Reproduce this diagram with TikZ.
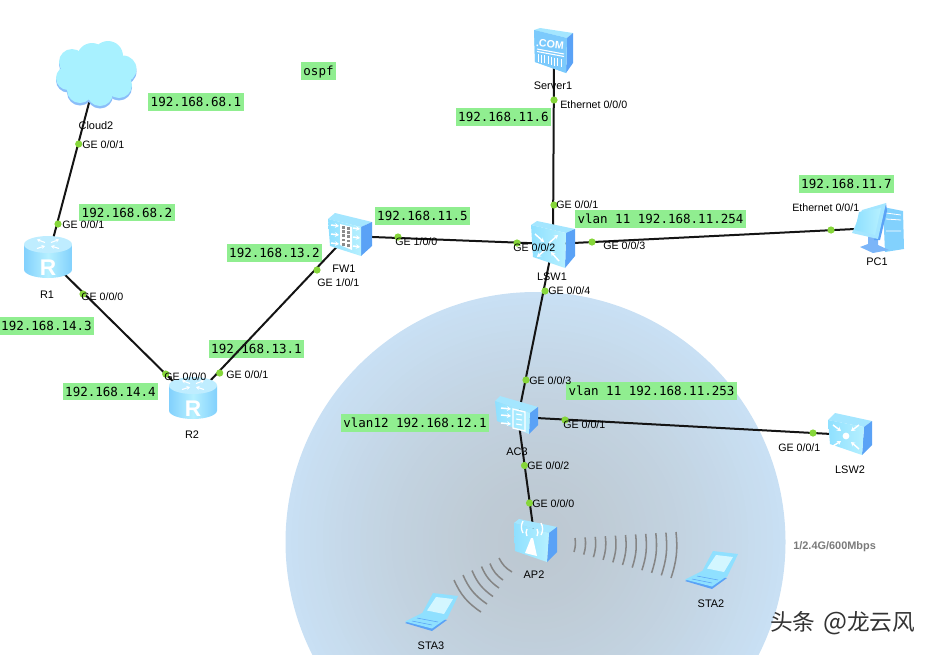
\documentclass[tikz,border=0pt]{standalone}
\usepackage{fontspec}
\setmainfont{Liberation Sans}
\newfontfamily\monofam{DejaVu Sans Mono}
\newfontfamily\cjkfam{Noto Sans CJK SC}
\usetikzlibrary{arrows.meta}
\definecolor{ipgreen}{HTML}{90EE90}
\definecolor{dotgreen}{HTML}{86D63A}
\definecolor{haloA}{HTML}{BDC8D1}
\definecolor{haloD}{HTML}{C9E0F4}
\definecolor{icside}{HTML}{5AA2F6}
\definecolor{ictop}{HTML}{A4E6FF}
\definecolor{icfrontA}{HTML}{8FE0FF}
\definecolor{icfrontB}{HTML}{B6F0FF}
\newcommand\cuboid[7]{%
  \fill[ictop] #1--#2--#3--#4--cycle;
  \fill[icside] #4--#3--#6--#5--cycle;
  \shade[left color=icfrontA,right color=icfrontB] #1--#4--#5--#7--cycle;
}
\tikzset{
  ipbox/.style={fill=ipgreen,font=\monofam\fontsize{9.4}{10}\selectfont,inner xsep=1.9pt,inner ysep=0pt,minimum height=12.9pt,text height=6.9pt,text depth=0pt},
  portlabel/.style={anchor=west,inner sep=0pt,font=\fontsize{8}{9}\selectfont,text=black},
  devlabel/.style={inner sep=0pt,font=\fontsize{8.2}{9}\selectfont,text=black},
  link/.style={line width=1.5pt,draw=black!92},
  portdot/.style={circle,fill=dotgreen,inner sep=0pt,minimum size=5.4pt},
  wave/.style={line width=1.15pt,draw=black!48},
  whitearrow/.style={draw=white,line width=1.1pt,-{Stealth[length=3pt,width=3.6pt]}},
  whiteline/.style={draw=white,line width=.8pt},
}
\begin{document}
\begin{tikzpicture}[x=0.75pt,y=-0.75pt]
\useasboundingbox (0,0) rectangle (937,654);
\begin{scope}
\clip (0,0) rectangle (937,654);
% coverage disc: concentric steps from rim to centre
\foreach \k in {40,39,...,1}{
  \pgfmathsetmacro\mixp{100*pow(\k/40,1.5)}
  \pgfmathsetmacro\rad{250*\k/40}
  \fill[haloD!\mixp!haloA] (535.5,542) circle (\rad);
}

% address boxes
\node[ipbox] (ipospf) at (318.5,71) {ospf};
\node[ipbox] (ipa) at (196,102) {192.168.68.1};
\node[ipbox] (ipb) at (127,212.5) {192.168.68.2};
\node[ipbox] (ipc) at (46.5,326) {192.168.14.3};
\node[ipbox] (ipd) at (274.5,253) {192.168.13.2};
\node[ipbox] (ipe) at (256.5,349) {192.168.13.1};
\node[ipbox] (ipf) at (110.5,391.5) {192.168.14.4};
\node[ipbox] (ipg) at (503.5,117) {192.168.11.6};
\node[ipbox] (iph) at (422.5,216) {192.168.11.5};
\node[ipbox] (ipi) at (846.5,184) {192.168.11.7};
\node[ipbox] (ipj) at (660.5,219) {vlan 11 192.168.11.254};
\node[ipbox] (ipk) at (651.5,391) {vlan 11 192.168.11.253};
\node[ipbox] (ipl) at (415,423) {vlan12 192.168.12.1};

% device anchor points
\coordinate (Cloud2) at (94,84);
\coordinate (R1) at (48,258);
\coordinate (R2) at (192,400);
\coordinate (FW1) at (347,236);
\coordinate (LSW1) at (553,244);
\coordinate (Server1) at (554,60);
\coordinate (PC1) at (875,228);
\coordinate (AC3) at (518,417);
\coordinate (LSW2) at (850,435);
\coordinate (AP2) at (535,541);

% connectors
\draw[link] (Cloud2) -- (R1);
\draw[link] (R1) -- (R2);
\draw[link] (R2) -- (FW1);
\draw[link] (FW1) -- (LSW1);
\draw[link] (Server1) -- (LSW1);
\draw[link] (LSW1) -- (PC1);
\draw[link] (LSW1) -- (AC3);
\draw[link] (AC3) -- (LSW2);
\draw[link] (AC3) -- (AP2);

% wifi waves toward STA2
\foreach \i in {0,...,10}{
  \pgfmathsetmacro\xt{575+10.1*\i}
  \pgfmathsetmacro\yt{538-0.6*\i}
  \pgfmathsetmacro\xb{574+9.7*\i}
  \pgfmathsetmacro\yb{552+2.6*\i}
  \draw[wave] (\xt,\yt) to[bend left=12] (\xb,\yb);
}
% wifi waves toward STA3
\foreach \xt/\yt/\xb/\yb in {499/558/512/572,490/563.5/503/580,481.5/566.5/499/588,472/570.5/493/596.5,463/575/487/604,454/580/481/612}{
  \draw[wave] (\xt,\yt) to[bend right=16] (\xb,\yb);
}

% Cloud
\foreach \ox/\oy/\oc in {0/2.5/icside!70!white,0/0/ictop!80!cyan!70!white}{
  \begin{scope}[shift={(\ox,\oy)}]
    \foreach \cx/\cy/\cr in {72/62/13,92/58/15,108/56/15,123/69/13.5,68/78/12,80/90/13,100/93/13,119/85/13,96/75/25}{
      \fill[\oc] (\cx,\cy) circle (\cr);
    }
  \end{scope}
}

% Routers
\foreach \cx/\cy in {48/244.5,193/385.5}{
  \begin{scope}[shift={(\cx,\cy)}]
    \shade[left color=icfrontA!75!icside,right color=icfrontA!75!icside,middle color=icfrontB] (-24,0) -- (-24,25) arc[start angle=180,end angle=0,x radius=24,y radius=8.5] -- (24,0) -- cycle;
    \fill[ictop!70!white] (0,0) ellipse[x radius=24,y radius=8.5];
    \draw[whiteline,-{Stealth[length=2.5pt,width=3pt]}] (-3,-2) -- (-11,-5);
    \draw[whiteline,-{Stealth[length=2.5pt,width=3pt]}] (3,-2) -- (11,-5);
    \draw[whiteline,-{Stealth[length=2.5pt,width=3pt]}] (-11,4) -- (-3,1.5);
    \draw[whiteline,-{Stealth[length=2.5pt,width=3pt]}] (11,4) -- (3,1.5);
    \node[text=white,inner sep=0pt,font=\bfseries\fontsize{17}{17}\selectfont] at (0,23) {R};
  \end{scope}
}

% FW1
\cuboid{(328,219)}{(335,213)}{(372,222)}{(361,227)}{(361,256)}{(372,246)}{(330,246)}
\fill[white] (340,224) -- (352,227) -- (352,250) -- (340,245) -- cycle;
\foreach \row in {0,...,4}{
  \fill[black!45] (341.5,{226+4.2*\row}) rectangle ++(3.6,2.8);
  \fill[black!45] (346.5,{227+4.2*\row}) rectangle ++(3.6,2.8);
}
\foreach \yy in {225,234,243}{
  \draw[whitearrow] (331,\yy) -- (339,{\yy+1});
  \draw[whitearrow] (353,{\yy+3}) -- (360,{\yy+4});
}

% LSW1 and LSW2
\cuboid{(531,225)}{(537,221)}{(575,229)}{(566,233)}{(565,268)}{(575,256)}{(533,257)}
\begin{scope}[shift={(548,247)}]
  \draw[whitearrow] (-13,-13) -- (-4,-5);
  \draw[whitearrow] (1,-4) -- (10,-12);
  \draw[whitearrow] (-3,3) -- (-11,10);
  \draw[whitearrow] (11,14) -- (3,5);
\end{scope}
\cuboid{(828,420)}{(835,413)}{(872,421)}{(864,427)}{(862,455)}{(872,445)}{(830,444)}
\begin{scope}[shift={(846,436)}]
  \fill[white] (0,0) circle (3.4);
  \draw[whitearrow] (-13,-11) -- (-5,-5);
  \draw[whitearrow] (13,-11) -- (5,-5);
  \draw[whitearrow] (-13,10) -- (-5,5);
  \draw[whitearrow] (13,13) -- (5,6);
\end{scope}

% AC3
\cuboid{(495,401)}{(500,396)}{(538,407)}{(530,413)}{(529,434)}{(538,425)}{(497,421)}
\foreach \yy in {408,415,423}{
  \draw[whitearrow] (501,\yy) -- (511,{\yy+1});
}
\draw[white,line width=1pt] (513,409) -- (525,412) -- (525,431) -- (513,428) -- cycle;
\foreach \yy in {414,419,424}{
  \draw[whiteline] (516,\yy) -- (522,{\yy+1});
}

% AP2
\cuboid{(514,523)}{(519,519)}{(557,527)}{(549,533)}{(547,562)}{(557,552)}{(515,551)}
\fill[white] (531,538) -- (525,553) -- (537,556) -- (533,538) -- cycle;
\draw[whiteline,line width=1pt] (527,536) arc[start angle=150,end angle=210,radius=7];
\draw[whiteline,line width=1pt] (523,533) arc[start angle=150,end angle=210,radius=12];
\draw[whiteline,line width=1pt] (537,536) arc[start angle=30,end angle=-30,radius=7];
\draw[whiteline,line width=1pt] (541,535) arc[start angle=30,end angle=-30,radius=12];

% Server1
\cuboid{(534,30)}{(540,28)}{(573,33)}{(567,38)}{(566,73)}{(573,63)}{(535,62)}
\fill[icside!35!icfrontA] (534,30) -- (567,38) -- (566,73) -- (535,62) -- cycle;
\node[text=white,inner sep=0pt,rotate=-6,font=\bfseries\fontsize{8}{8}\selectfont] (comtext) at (550,44) {.COM};
\draw[whiteline] (537,49) -- (564,54);
\draw[whiteline] (537,51.5) -- (564,56.5);
\foreach \i in {0,...,7}{
  \draw[white,line width=.6pt] ({538+3.3*\i},{54+0.7*\i}) -- ++(0,8);
}

% PC1
\fill[icfrontA!75!icside] (883,207) -- (903,211) -- (904,249) -- (885,252) -- cycle;
\draw[white,line width=.6pt] (886,213) -- (901,215) (886,219) -- (901,220) (886,231) -- (901,231);
\fill[icside!80!white] (868,236) -- (878,238) -- (878,245) -- (889,250) -- (873,253) -- (860,247) -- (868,244) -- cycle;
\fill[icside] (886,203) -- (887,211) -- (880,240) -- (874,240) -- cycle;
\fill[ictop] (862,210) -- (886,203) -- (878,239) -- (852,233) -- cycle;
\shade[left color=icfrontA,right color=icfrontB] (859,212) -- (881,208) -- (875,235) -- (855,230) -- cycle;

% Laptops
\foreach \dx/\dy in {0/0,-280/42}{
  \begin{scope}[shift={(\dx,\dy)}]
    \fill[icside] (685,581) -- (702,573) -- (727,578) -- (712,589) -- cycle;
    \fill[icfrontA] (685,579.5) -- (702,571) -- (727,576) -- (712,586.5) -- cycle;
    \draw[icside,line width=.4pt] (692,579) -- (712,583) (697,576) -- (718,580);
    \fill[icfrontA] (713,551) -- (738,554) -- (727,577) -- (702,571.5) -- cycle;
    \fill[icfrontB!60!white] (716,555) -- (733,557) -- (724,572) -- (707,568.5) -- cycle;
  \end{scope}
}

% device names
\node[devlabel] (lCloud2) at (96,126) {Cloud2};
\node[devlabel] (lR1) at (47,295) {R1};
\node[devlabel] (lR2) at (192,435) {R2};
\node[devlabel] (lFW1) at (344,269) {FW1};
\node[devlabel] (lLSW1) at (552,277) {LSW1};
\node[devlabel] (lServer1) at (553,86) {Server1};
\node[devlabel] (lPC1) at (877,262) {PC1};
\node[devlabel] (lAC3) at (517,452) {AC3};
\node[devlabel] (lLSW2) at (850,470) {LSW2};
\node[devlabel] (lAP2) at (534,575) {AP2};
\node[devlabel] (lSTA2) at (711,604) {STA2};
\node[devlabel] (lSTA3) at (431,646) {STA3};

% port dots
\node[portdot] (pa) at (78.7,144) {};
\node[portdot] (pb) at (58,224) {};
\node[portdot] (pc) at (83,294) {};
\node[portdot] (pd) at (165.7,374) {};
\node[portdot] (pe) at (219.7,373) {};
\node[portdot] (pf) at (317,270) {};
\node[portdot] (pg) at (398,237) {};
\node[portdot] (ph) at (517,243) {};
\node[portdot] (pi) at (554,100) {};
\node[portdot] (pj) at (554,205) {};
\node[portdot] (pk) at (592,242) {};
\node[portdot] (pl) at (831,230) {};
\node[portdot] (pm) at (545,291) {};
\node[portdot] (pn) at (526,380) {};
\node[portdot] (po) at (565,420) {};
\node[portdot] (pp) at (813,433) {};
\node[portdot] (pq) at (524.5,465.5) {};
\node[portdot] (pr) at (529.5,503) {};

% port names
\node[portlabel] (ga) at (82,145) {GE 0/0/1};
\node[portlabel] (gb) at (62,225) {GE 0/0/1};
\node[portlabel] (gc) at (81,297) {GE 0/0/0};
\node[portlabel] (gd) at (164,377) {GE 0/0/0};
\node[portlabel] (ge) at (226,375) {GE 0/0/1};
\node[portlabel] (gf) at (317,283) {GE 1/0/1};
\node[portlabel] (gg) at (395,242) {GE 1/0/0};
\node[portlabel] (gh) at (513,248) {GE 0/0/2};
\node[portlabel] (gi) at (560,105) {Ethernet 0/0/0};
\node[portlabel] (gj) at (556,205) {GE 0/0/1};
\node[portlabel] (gk) at (603,246) {GE 0/0/3};
\node[portlabel] (gl) at (792,208) {Ethernet 0/0/1};
\node[portlabel] (gm) at (548,291) {GE 0/0/4};
\node[portlabel] (gn) at (529,381) {GE 0/0/3};
\node[portlabel] (go) at (563,425) {GE 0/0/1};
\node[portlabel] (gp) at (778,448) {GE 0/0/1};
\node[portlabel] (gq) at (527,466) {GE 0/0/2};
\node[portlabel] (gr) at (532,504) {GE 0/0/0};

\node[anchor=west,inner sep=0pt,text=black!52,font=\bfseries\fontsize{8.2}{9}\selectfont] (rate) at (793,547) {1/2.4G/600Mbps};
\node[anchor=west,inner sep=0pt,text=black!80,font=\cjkfam\fontsize{17}{18}\selectfont] (mark) at (770,623) {头条\hspace{2pt} {\fontsize{19}{18}\selectfont @}龙云风};
\end{scope}
\end{tikzpicture}
\end{document}
